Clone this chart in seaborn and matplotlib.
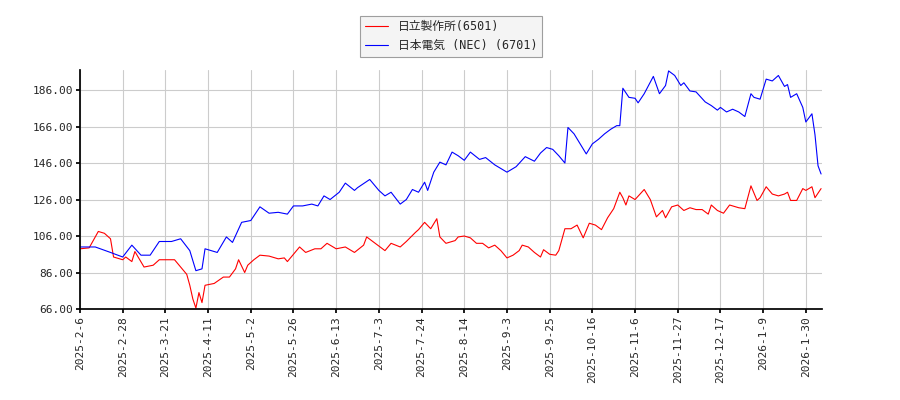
import matplotlib
matplotlib.use("Agg")
import matplotlib.pyplot as plt
import seaborn as sns
import pandas as pd

tick_labels = ["2025-2-6","2025-2-28","2025-3-21","2025-4-11","2025-5-2","2025-5-26","2025-6-13",
               "2025-7-3","2025-7-24","2025-8-14","2025-9-3","2025-9-25","2025-10-16","2025-11-6",
               "2025-11-27","2025-12-17","2026-1-9","2026-1-30"]

nec_idx = [0,5,10,14,17,20,23,26,30,33,36,38,40,41,45,48,50,53,56,59,62,65,68,70,73,76,78,80,82,85,87,90,91,95,98,
           100,102,105,107,109,111,113,114,116,118,120,122,124,126,128,131,133,136,140,143,146,149,151,153,155,157,
           159,160,162,164,166,168,170,172,174,176,177,178,180,182,183,185,188,190,192,193,195,197,198,200,202,205,
           207,209,210,212,214,216,218,220,221,223,225,227,229,231,232,233,235,237,238,240,241,242,243]
nec_val = [100,100,97,94.5,101,95.5,95.5,103,103,104.5,98,87,88,99,97,105.5,102.5,113.5,114.5,122,118.5,119,118,
           122.5,122.5,123.5,122.5,128,126,130,135,131,132.5,137,131,128,130,123.5,126,131.5,130,135.5,131,141,146.5,
           145,152,150,147.5,152,148,149,145,141,144,149.5,147,151.5,154.5,153.5,150,146,165.5,162,156.5,151,156.5,
           159,162,164.5,166.5,166.5,187,182,181.5,179,184,193.5,184,188.5,196.5,194,188.5,190,185.5,185,179.5,177.5,
           175,176.5,174,175.5,174,171.5,184,182,181,192,191,194,188,189,182,184,176.5,168.5,173,161.5,144.5,140]

hit_idx = [0,3,6,8,10,11,14,15,17,18,21,24,26,29,31,33,35,36,37,38,39,40,41,44,47,49,51,52,54,55,57,59,62,65,67,68,
           72,74,77,79,81,84,87,90,93,94,96,100,102,105,107,110,111,113,115,117,118,120,123,124,126,128,130,132,134,
           136,138,140,142,144,145,147,149,151,152,154,156,157,159,161,163,165,167,169,171,173,175,177,178,179,180,
           182,185,187,189,191,192,194,196,198,200,202,204,206,207,209,211,213,216,218,220,222,223,225,227,229,231,
           232,233,235,237,238,240,241,243]
hit_val = [99,99.5,108.5,107.5,104.5,94.5,93,94.5,92,97.5,89,90,93,93,93,89,85,79,71.5,66.5,75,69.5,79,80,83.5,83.5,
           88,93,86,90,93,95.5,95,93.5,94,92,100,97,99,99,102,99,100,97,101,105.5,103,98,102,100,103,108,109.5,113.5,
           110,115.5,105.5,102,103.5,105.5,106,105,102,102,99.5,101,98,94,95.5,98,101,100,97,94.5,98.5,96,95.5,98,110,
           110,112,105,113,112,109.5,116,121,130,127,123,128,126,131.5,126,116.5,120,116,122,123,120,121.5,120.5,120.5,
           118,123,120,118.5,123,121.5,121,133.5,125.5,127,133,129,128,129,130,125.5,125.5,132,131,133,127,132]

df = pd.concat([
    pd.DataFrame({"i": hit_idx, "v": hit_val, "s": "日立製作所(6501)"}),
    pd.DataFrame({"i": nec_idx, "v": nec_val, "s": "日本電気 (NEC) (6701)"}),
])

sns.set_theme(style="whitegrid")
plt.rcParams["font.family"] = ["DejaVu Sans Mono", "Noto Sans CJK JP"]

fig = plt.figure(figsize=(9, 4), dpi=100)
ax = fig.add_axes([80/900, 1-309/400, 742/900, 239/400])
sns.lineplot(data=df, x="i", y="v", hue="s", palette=["red", "blue"], linewidth=0.8, ax=ax)

ax.set_xlim(0, 243.3)
ax.set_ylim(66, 197)
ax.set_xticks(list(range(0, 14*len(tick_labels), 14)))
ax.set_xticklabels(tick_labels, rotation=90, fontsize=8)
ax.set_yticks(list(range(66, 187, 20)))
ax.set_yticklabels([f"{v:.2f}" for v in range(66, 187, 20)], fontsize=8)
ax.set_xlabel("")
ax.set_ylabel("")
ax.grid(True, color="#cccccc", linewidth=0.8)
for s in ax.spines.values():
    s.set_visible(False)
ax.spines["left"].set_visible(True)
ax.spines["bottom"].set_visible(True)
ax.spines["left"].set_color("black")
ax.spines["bottom"].set_color("black")
ax.tick_params(axis="both", length=3, color="black", pad=2)
ax.tick_params(axis="both", which="major", left=True, bottom=True)

leg = ax.legend(loc="lower center", bbox_to_anchor=(0.5, 1.03), fontsize=8.5, frameon=True,
                fancybox=False, edgecolor="#888888", facecolor="#f2f2f2", handlelength=2)
leg.get_frame().set_linewidth(0.8)

fig.savefig("out.png", dpi=100)
